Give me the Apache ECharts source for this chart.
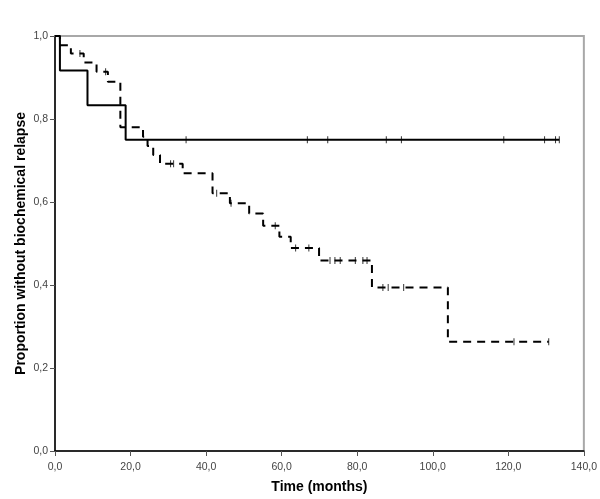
<!DOCTYPE html>
<html>
<head>
<meta charset="utf-8">
<script src="https://cdn.jsdelivr.net/npm/echarts@6/dist/echarts.min.js"></script>
<style>
html,body{margin:0;padding:0;background:#fff;}
#chart{width:600px;height:499px;}
</style>
</head>
<body>
<div id="chart"></div>
<script>
// Group 1 (solid line): event times / survival after each step
var solidTimes = [0, 1.3, 8.6, 18.7, 133.5];
var solidSurv  = [1.0, 0.917, 0.833, 0.75, 0.75];
var solidCensor = [34.7, 66.8, 72.2, 87.7, 91.7, 118.8, 129.6, 132.5, 133.5];

// Group 2 (dashed line)
var dashTimes = [0, 1.3, 4.2, 7.6, 11.0, 14.0, 17.3, 23.3, 24.5, 26.0, 27.8, 33.8, 41.7, 46.3, 51.4, 55.1, 59.4, 62.4, 69.9, 83.9, 104.0, 130.7];
var dashSurv  = [1.0, 0.978, 0.958, 0.936, 0.914, 0.89, 0.78, 0.757, 0.735, 0.713, 0.692, 0.669, 0.621, 0.597, 0.572, 0.543, 0.516, 0.489, 0.459, 0.394, 0.263, 0.263];
var dashCensor = [6.6, 13.4, 30.6, 31.4, 42.8, 46.6, 58.3, 63.7, 67.2, 72.8, 74.1, 75.5, 79.5, 81.5, 82.6, 86.8, 88.2, 92.3, 121.5, 130.7];

var xTickLabels = ['0,0', '20,0', '40,0', '60,0', '80,0', '100,0', '120,0', '140,0'];
var yTickLabels = ['0,0', '0,2', '0,4', '0,6', '0,8', '1,0'];

function pairs(t, s) { return t.map(function (v, i) { return [v, s[i]]; }); }
function survAt(t, s, x) {
  var v = s[0];
  for (var i = 0; i < t.length; i++) { if (t[i] <= x) v = s[i]; }
  return v;
}
function censorPts(c, t, s) { return c.map(function (x) { return [x, survAt(t, s, x)]; }); }

var font = 'Liberation Sans, Arial, sans-serif';
var chart = echarts.init(document.getElementById('chart'));
chart.setOption({
  animation: false,
  backgroundColor: '#fff',
  grid: { left: 55, right: 14, top: 36, bottom: 48, show: true, borderColor: '#a8a8a8', borderWidth: 2 },
  xAxis: {
    type: 'value', min: 0, max: 140, interval: 20,
    name: 'Time (months)', nameLocation: 'middle', nameGap: 29, nameMoveOverlap: false,
    nameTextStyle: { fontFamily: font, fontSize: 14, fontWeight: 'bold', color: '#000' },
    axisLine: { show: true, lineStyle: { color: '#000', width: 1.5 } },
    axisTick: { show: true, length: 5, lineStyle: { color: '#555' } },
    axisLabel: { fontFamily: font, fontSize: 10.5, color: '#444', margin: 11,
      formatter: function (v) { return xTickLabels[Math.round(v / 20)]; } },
    splitLine: { show: false }
  },
  yAxis: {
    type: 'value', min: 0, max: 1, interval: 0.2,
    name: 'Proportion without biochemical relapse', nameLocation: 'middle', nameGap: 27, nameMoveOverlap: false,
    nameTextStyle: { fontFamily: font, fontSize: 14, fontWeight: 'bold', color: '#000' },
    axisLine: { show: true, lineStyle: { color: '#000', width: 1.5 } },
    axisTick: { show: true, length: 5, lineStyle: { color: '#555' } },
    axisLabel: { fontFamily: font, fontSize: 10.5, color: '#444', margin: 7,
      formatter: function (v) { return yTickLabels[Math.round(v / 0.2)]; } },
    splitLine: { show: false }
  },
  series: [
    { type: 'line', step: 'end', showSymbol: false, data: pairs(solidTimes, solidSurv),
      lineStyle: { color: '#000', width: 2 } },
    { type: 'line', step: 'end', showSymbol: false, data: pairs(dashTimes, dashSurv),
      lineStyle: { color: '#000', width: 2, type: [8, 6] } },
    { type: 'scatter', symbol: 'rect', symbolSize: [1, 7], data: censorPts(solidCensor, solidTimes, solidSurv),
      itemStyle: { color: '#000' } },
    { type: 'scatter', symbol: 'rect', symbolSize: [1, 7], data: censorPts(dashCensor, dashTimes, dashSurv),
      itemStyle: { color: '#000' } }
  ]
});
</script>
</body>
</html>
